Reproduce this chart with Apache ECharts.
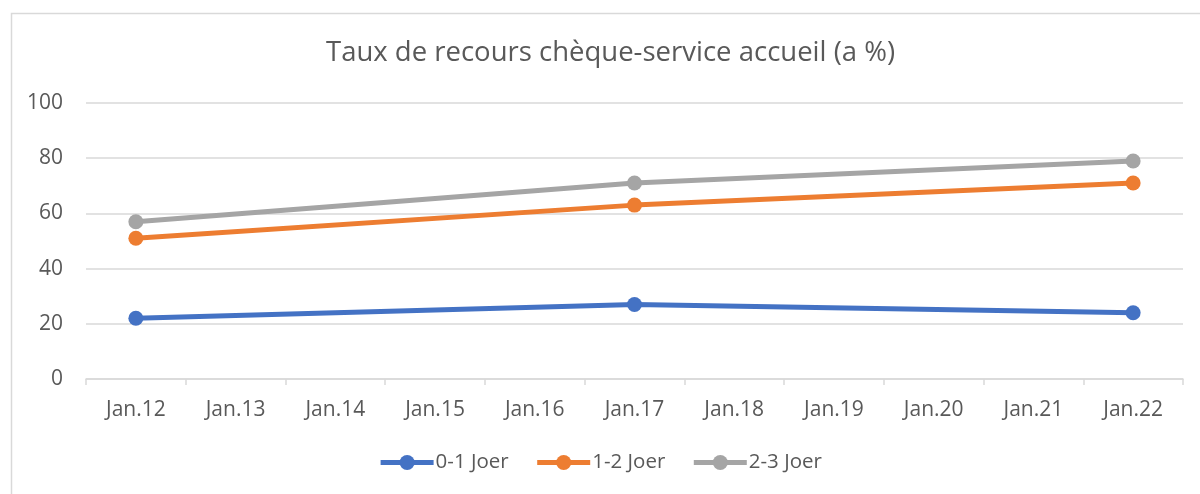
<!DOCTYPE html>
<html>
<head>
<meta charset="utf-8">
<script src="https://cdn.jsdelivr.net/npm/echarts@6/dist/echarts.min.js"></script>
<style>
html,body{margin:0;padding:0;background:#fff;}
#chart{width:1200px;height:494px;}
</style>
</head>
<body>
<div id="chart"></div>
<script>
var categories = ['Jan.12','Jan.13','Jan.14','Jan.15','Jan.16','Jan.17','Jan.18','Jan.19','Jan.20','Jan.21','Jan.22'];
var series01 = [22, null, null, null, null, 27, null, null, null, null, 24];
var series12 = [51, null, null, null, null, 63, null, null, null, null, 71];
var series23 = [57, null, null, null, null, 71, null, null, null, null, 79];
var seriesNames = ['0-1 Joer', '1-2 Joer', '2-3 Joer'];
var colors = ['#4472C4', '#ED7D31', '#A5A5A5'];

var chart = echarts.init(document.getElementById('chart'));
var font = 'Open Sans';
function mk(name, data, color) {
  return {
    name: name, type: 'line', data: data, connectNulls: true,
    symbol: 'circle', symbolSize: 15,
    lineStyle: {width: 5, color: color},
    itemStyle: {color: color},
    emphasis: {disabled: true},
    animation: false
  };
}
chart.setOption({
  animation: false,
  graphic: [{
    type: 'rect', left: 9, top: 11,
    shape: {width: 1250, height: 550},
    style: {fill: 'none', stroke: '#d9d9d9', lineWidth: 1.5},
    silent: true, z: -1
  }],
  title: {
    text: 'Taux de recours chèque-service accueil (a %)',
    left: 321, top: 34,
    textStyle: {fontFamily: font, fontSize: 27.5, fontWeight: 'normal', color: '#595959'}
  },
  legend: {
    bottom: 16, left: 'center',
    itemWidth: 53, itemHeight: 19, itemGap: 26,
    lineStyle: {width: 5},
    textStyle: {fontFamily: font, fontSize: 20.5, color: '#595959', padding: [0,0,0,-3]},
    data: seriesNames
  },
  grid: {left: 86, right: 17, top: 103, bottom: 115},
  xAxis: {
    type: 'category', data: categories, boundaryGap: true,
    axisLine: {lineStyle: {color: '#d9d9d9', width: 1.5}},
    axisTick: {show: true, length: 6, lineStyle: {color: '#d9d9d9', width: 1.5}},
    axisLabel: {fontFamily: font, fontSize: 21, color: '#595959', margin: 21}
  },
  yAxis: {
    type: 'value', min: 0, max: 100, interval: 20,
    axisLine: {show: false}, axisTick: {show: false},
    splitLine: {lineStyle: {color: '#d9d9d9', width: 1.5}},
    axisLabel: {fontFamily: font, fontSize: 21, color: '#595959', margin: 23}
  },
  series: [
    mk(seriesNames[0], series01, colors[0]),
    mk(seriesNames[1], series12, colors[1]),
    mk(seriesNames[2], series23, colors[2])
  ]
});
</script>
</body>
</html>
